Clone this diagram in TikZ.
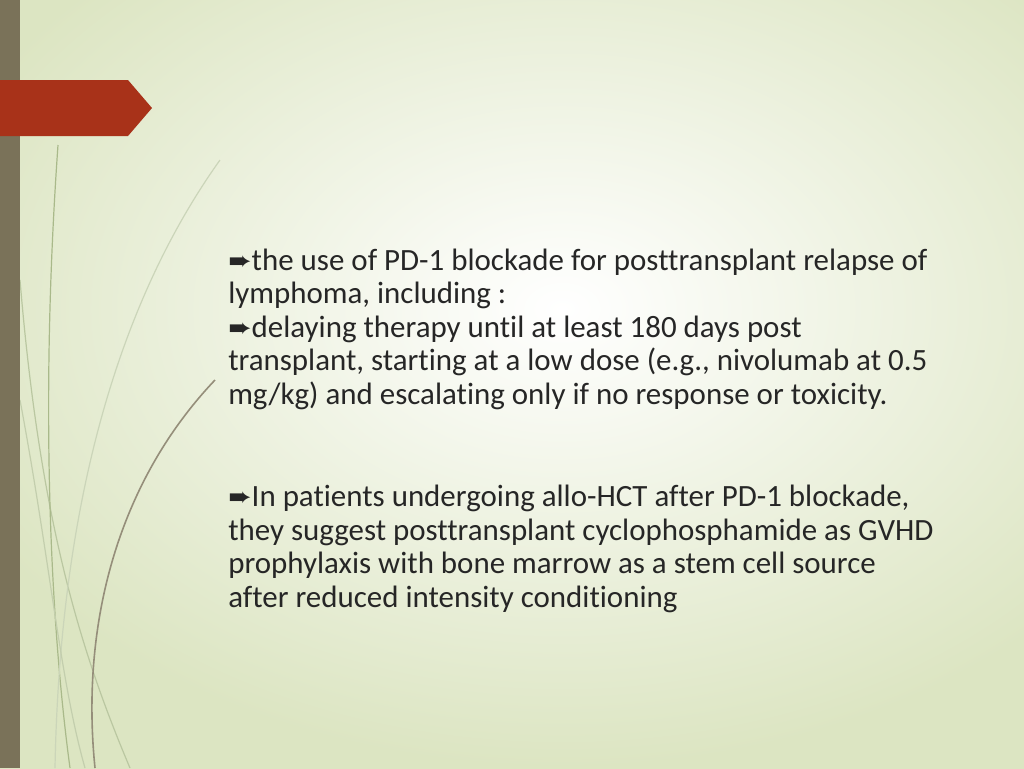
\documentclass[tikz,border=0pt]{standalone}
\usepackage{fontspec}
\setmainfont[RawFeature=-liga]{Carlito}
\newfontfamily\symf{DejaVu Sans}
\begin{document}
\begin{tikzpicture}[x=0.75pt,y=-0.75pt,
  txt/.style={anchor=base west,inner sep=0,font=\fontsize{23.2}{28}\selectfont,text=black!85},
  leaf/.style={draw=#1,line width=0.9pt}]
\definecolor{bgedge}{HTML}{DCE5C2}
\definecolor{bar}{HTML}{7A7259}
\definecolor{tab}{HTML}{A83219}
\definecolor{lf}{HTML}{A9B98A}
\useasboundingbox (0,0) rectangle (1024,768);
\shade[inner color=white,outer color=bgedge] (-100,-150) rectangle (1224,768);
% curves
\draw[leaf=lf!80] (20,280) .. controls (40,520) and (80,650) .. (130,768);
\draw[leaf=lf] (58,145) .. controls (40,400) and (50,620) .. (70,768);
\draw[leaf=lf!60] (220,160) .. controls (120,300) and (60,500) .. (55,768);
\draw[leaf=bar!80,line width=1.2pt] (215,380) .. controls (120,480) and (80,620) .. (95,768);
\draw[leaf=lf!70] (20,400) .. controls (50,560) and (60,680) .. (85,768);
\fill[bar] (0,0) rectangle (20,768);
\fill[tab] (0,80) -- (128,80) -- (152,108) -- (128,136) -- (0,136) -- cycle;
\newcommand{\bul}{{\symf\fontsize{21}{21}\selectfont ➨}}
\node[txt] (l1) at (228,270) {\bul the use of PD-1 blockade for posttransplant relapse of};
\node[txt] (l2) at (228,303) {lymphoma, including :};
\node[txt] (l3) at (228,337) {\bul delaying therapy until at least 180 days post};
\node[txt] (l4) at (228,370) {transplant, starting at a low dose (e.g., nivolumab at 0.5};
\node[txt] (l5) at (228,404) {mg/kg) and escalating only if no response or toxicity.};
\node[txt] (m1) at (228,506) {\bul In patients undergoing allo-HCT after PD-1 blockade,};
\node[txt] (m2) at (228,540) {they suggest posttransplant cyclophosphamide as GVHD};
\node[txt] (m3) at (228,573) {prophylaxis with bone marrow as a stem cell source};
\node[txt] (m4) at (228,607) {after reduced intensity conditioning};
\end{tikzpicture}
\end{document}
